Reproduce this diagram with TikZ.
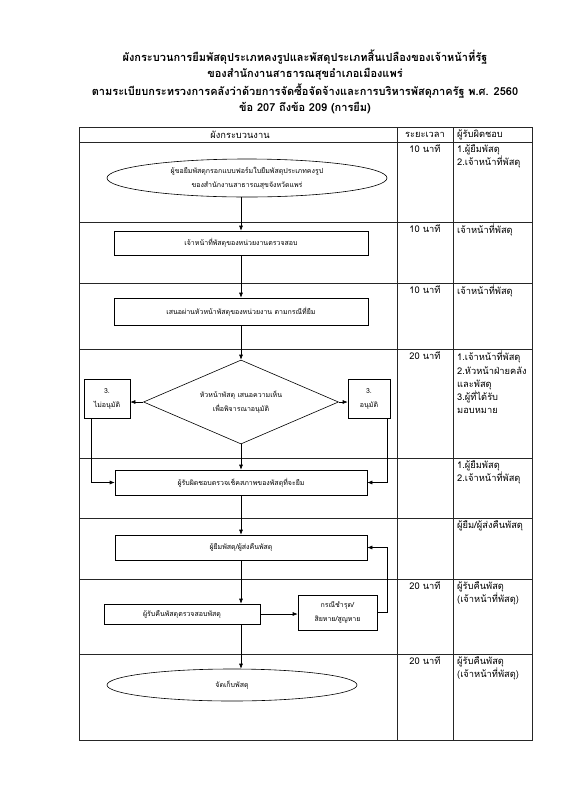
\documentclass[tikz,border=0pt]{standalone}
\usepackage{fontspec}
\setmainfont{Loma}[Script=Thai]
\usetikzlibrary{shapes.geometric,arrows.meta}
\begin{document}
\begin{tikzpicture}[x=1pt,y=-1pt,
  titletext/.style={inner sep=0pt, font=\fontsize{11}{13}\selectfont\bfseries},
  grid/.style={line width=0.7pt, draw=black!85},
  cell/.style={inner sep=0pt, font=\fontsize{9.3}{13}\selectfont},
  resp/.style={inner sep=0pt, anchor=north west, align=left, font=\fontsize{9.3}{13.3}\selectfont},
  flow/.style={draw, line width=0.6pt, inner sep=1pt, align=center, font=\fontsize{7}{14}\selectfont},
  procbox/.style={flow, rectangle},
  oval/.style={flow, ellipse, inner sep=0pt},
  decide/.style={flow, diamond, aspect=2.3, inner sep=0pt},
  arr/.style={line width=0.6pt, -{Latex[length=5pt,width=4pt]}}
]
\useasboundingbox (0,0) rectangle (587,801);
% title
\node[titletext] (t1) at (305,57) {ผังกระบวนการยืมพัสดุประเภทคงรูปและพัสดุประเภทสิ้นเปลืองของเจ้าหน้าที่รัฐ};
\node[titletext] (t2) at (305,74) {ของสำนักงานสาธารณสุขอำเภอเมืองแพร่};
\node[titletext] (t3) at (305,91) {ตามระเบียบกระทรวงการคลังว่าด้วยการจัดซื้อจัดจ้างและการบริหารพัสดุภาครัฐ พ.ศ. 2560};
\node[titletext] (t4) at (305,108) {ข้อ 207 ถึงข้อ 209 (การยืม)};
% table
\draw[grid] (79,127) rectangle (532,740);
\foreach \yy in {142,222,283,349,458,518,579,654} \draw[grid] (79,\yy) -- (532,\yy);
\draw[grid] (397,127) -- (397,740);
\draw[grid] (453,127) -- (453,740);
% header
\node[cell] (h1) at (240,135) {ผังกระบวนงาน};
\node[cell] (h2) at (425,135) {ระยะเวลา};
\node[cell,anchor=west] (h3) at (457,135) {ผู้รับผิดชอบ};
% times
\node[cell] (tm1) at (425,149) {10 นาที};
\node[cell] (tm2) at (425,229) {10 นาที};
\node[cell] (tm3) at (425,290) {10 นาที};
\node[cell] (tm4) at (425,356) {20 นาที};
\node[cell] (tm7) at (425,586) {20 นาที};
\node[cell] (tm8) at (425,661) {20 นาที};
% responsible
\node[resp] (r1) at (457,144) {1.ผู้ยืมพัสดุ\\2.เจ้าหน้าที่พัสดุ};
\node[resp] (r2) at (457,224) {เจ้าหน้าที่พัสดุ};
\node[resp] (r3) at (457,285) {เจ้าหน้าที่พัสดุ};
\node[resp] (r4) at (457,351) {1.เจ้าหน้าที่พัสดุ\\2.หัวหน้าฝ่ายคลัง\\และพัสดุ\\3.ผู้ที่ได้รับ\\มอบหมาย};
\node[resp] (r5) at (457,460) {1.ผู้ยืมพัสดุ\\2.เจ้าหน้าที่พัสดุ};
\node[resp] (r6) at (457,520) {ผู้ยืม/ผู้ส่งคืนพัสดุ};
\node[resp] (r7) at (457,581) {ผู้รับคืนพัสดุ\\(เจ้าหน้าที่พัสดุ)};
\node[resp] (r8) at (457,656) {ผู้รับคืนพัสดุ\\(เจ้าหน้าที่พัสดุ)};
% flow
\node[oval, minimum width=280pt, minimum height=38pt] (e1) at (247,178) {ผู้ขอยืมพัสดุกรอกแบบฟอร์มใบยืมพัสดุประเภทคงรูป\\ของสำนักงานสาธารณสุขจังหวัดแพร่};
\node[procbox, minimum width=254pt, minimum height=24pt] (b1) at (241,243) {เจ้าหน้าที่พัสดุของหน่วยงานตรวจสอบ};
\node[procbox, minimum width=254pt, minimum height=27pt] (b2) at (241,311.5) {เสนอผ่านหัวหน้าพัสดุของหน่วยงาน ตามกรณีที่ยืม};
\node[decide, minimum width=195pt, minimum height=84pt] (d) at (241,402) {หัวหน้าพัสดุ เสนอความเห็น\\เพื่อพิจารณาอนุมัติ};
\node[procbox, minimum width=46pt, minimum height=39pt] (bn) at (107,398.5) {3.\\ไม่อนุมัติ};
\node[procbox, minimum width=42pt, minimum height=39pt] (by) at (369,398.5) {3.\\อนุมัติ};
\node[procbox, minimum width=252pt, minimum height=25pt] (b3) at (241,482.5) {ผู้รับผิดชอบตรวจเช็คสภาพของพัสดุที่จะยืม};
\node[procbox, minimum width=252pt, minimum height=25pt] (b4) at (241,547.5) {ผู้ยืมพัสดุ/ผู้ส่งคืนพัสดุ};
\node[procbox, minimum width=156pt, minimum height=20pt] (b5) at (182,614) {ผู้รับคืนพัสดุตรวจสอบพัสดุ};
\node[procbox, minimum width=79pt, minimum height=35pt] (b6) at (337.5,612.5) {กรณีชำรุด/\\สิยหาย/สูญหาย};
\node[oval, minimum width=250pt, minimum height=32pt] (e2) at (232,685) {จัดเก็บพัสดุ};
% connectors
\draw[arr] (e1.south -| b1.north) -- (b1.north);
\draw[arr] (b1.south) -- (b2.north);
\draw[arr] (b2.south) -- (d.north);
\draw[arr] (d.west) -- (d.west -| bn.east);
\draw[arr] (d.east) -- (d.east -| by.west);
\draw[arr] (d.south) -- (d.south |- b3.north);
\draw[arr] ([xshift=8pt]bn.south west) |- (b3.west);
\draw[arr] ([xshift=-3pt]by.south east) |- (b3.east);
\draw[arr] (b3.south) -- (b4.north);
\draw[arr] (b4.south) -- (b4.south |- b5.north);
\draw[arr] (b5.east) -- (b6.west |- b5.east);
\draw[arr] (b6.east) -- ++(10,0) |- (b4.east);
\draw[arr] (b4.south |- b5.south) -- (b4.south |- e2.north);
\end{tikzpicture}
\end{document}
